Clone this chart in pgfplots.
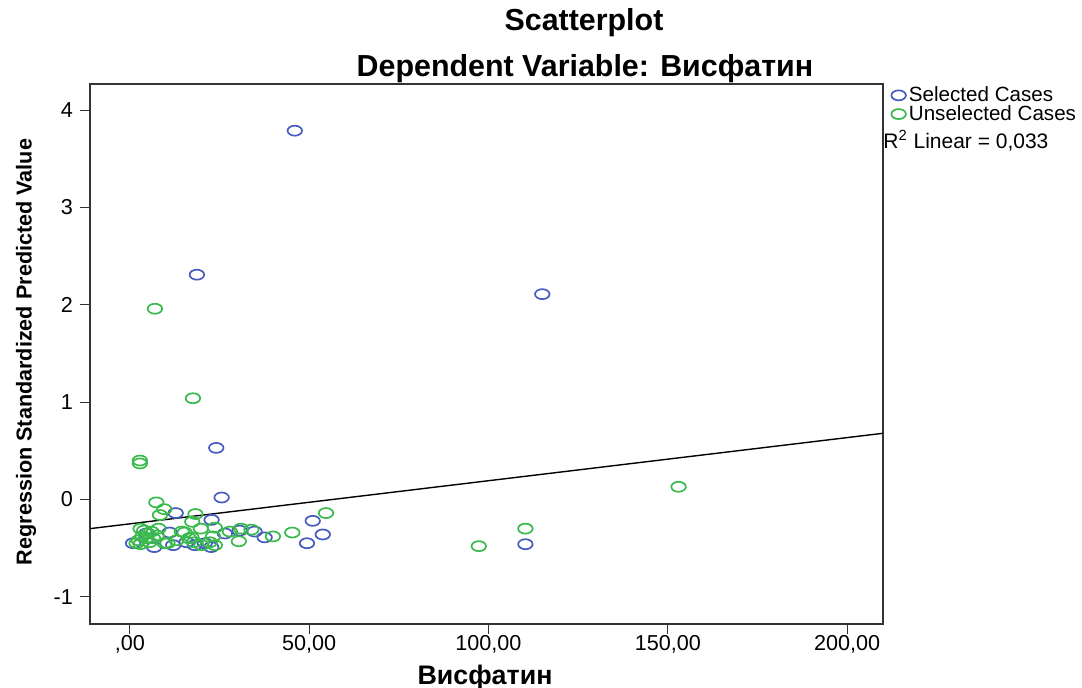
\documentclass[border=0pt]{standalone}
\usepackage{fontspec}
\setmainfont{Liberation Sans}
\usepackage{pgfplots}
\pgfplotsset{compat=1.18}
\definecolor{selblue}{RGB}{72,92,192}
\definecolor{unselgreen}{RGB}{58,186,76}
\begin{document}
\begin{tikzpicture}[x=1pt,y=1pt]
\useasboundingbox (0,0) rectangle (541,344);
\begin{axis}[
  at={(45pt,32pt)}, anchor=south west,
  scale only axis, width=396.5pt, height=270pt,
  xmin=-11.1, xmax=210, ymin=-1.28, ymax=4.27,
  axis line style={black!80, line width=0.6pt},
  tick align=outside, major tick length=5pt,
  tick style={black!80, line width=0.6pt},
  xtick={0,50,100,150,200},
  xticklabels={{,00},{50,00},{100,00},{150,00},{200,00}},
  ytick={-1,0,1,2,3,4},
  yticklabels={-1,0,1,2,3,4},
  xtick pos=bottom, ytick pos=left,
  ticklabel style={font=\fontsize{10.8}{12}\selectfont},
  xticklabel style={yshift=3pt},
  legend style={at={(axis description cs:1,1)}, anchor=north west, draw=none, fill=none,
    font=\fontsize{10.3}{12}\selectfont, inner sep=1pt, row sep=-2.6pt, xshift=3pt, yshift=1.5pt,
    legend cell align=left, nodes={inner sep=1.5pt}},
]
\addplot[only marks, mark=o, mark size=2.5pt, mark options={xscale=1.45, line width=0.85pt}, color=selblue] coordinates {
(46.0,3.79) (18.7,2.31) (115.0,2.11) (24.1,0.53) (25.6,0.02) (12.8,-0.14)
(22.8,-0.21) (11.1,-0.34) (26.5,-0.35) (30.6,-0.32) (34.8,-0.33) (37.6,-0.39)
(20.9,-0.45) (51.0,-0.22) (53.8,-0.36) (49.4,-0.45) (110.3,-0.46) (0.9,-0.45)
(6.8,-0.49) (12.1,-0.47) (15.8,-0.44) (4.6,-0.35) (22.7,-0.49) (18.1,-0.47)
};
\addlegendentry{Selected Cases}
\addplot[only marks, mark=o, mark size=2.5pt, mark options={xscale=1.45, line width=0.85pt}, color=unselgreen] coordinates {
(7.0,1.96) (17.6,1.04) (2.8,0.40) (2.8,0.37) (7.4,-0.03) (9.6,-0.10) (8.4,-0.16)
(18.3,-0.15) (17.4,-0.23) (19.8,-0.30) (54.7,-0.14) (45.3,-0.34) (39.9,-0.38)
(33.9,-0.31) (31.0,-0.30) (30.4,-0.43) (27.9,-0.33) (23.7,-0.29) (23.2,-0.38)
(22.3,-0.44) (17.9,-0.44) (14.5,-0.33) (13.0,-0.42) (97.3,-0.48) (110.3,-0.30)
(153.0,0.13) (3.0,-0.30) (4.0,-0.32) (5.0,-0.35) (3.5,-0.38) (4.5,-0.40)
(6.0,-0.33) (2.5,-0.42) (5.5,-0.44) (3.0,-0.46) (7.5,-0.37) (9.7,-0.45)
(10.5,-0.45) (1.9,-0.45) (16.5,-0.40) (20.0,-0.47) (23.7,-0.47) (15.3,-0.34)
(17.2,-0.39) (6.5,-0.40) (8.0,-0.30)
};
\addlegendentry{Unselected Cases}
\addplot[black, line width=0.7pt, forget plot] coordinates {(-11.1,-0.30) (210,0.68)};
\end{axis}
\node[font=\bfseries\fontsize{15.2}{17}\selectfont] at (292,332.5) {Scatterplot};
\node[font=\bfseries\fontsize{15.2}{17}\selectfont] at (292.5,309.5) {Dependent Variable: Висфатин};
\node[font=\bfseries\fontsize{10.8}{12}\selectfont, rotate=90] at (13,168) {Regression Standardized Predicted Value};
\node[font=\bfseries\fontsize{13.4}{15}\selectfont] at (242.5,5) {Висфатин};
\node[font=\fontsize{10.5}{12}\selectfont, anchor=west, inner sep=0pt] at (441.5,273.5) {R\textsuperscript{2} Linear = 0,033};
\end{tikzpicture}
\end{document}
